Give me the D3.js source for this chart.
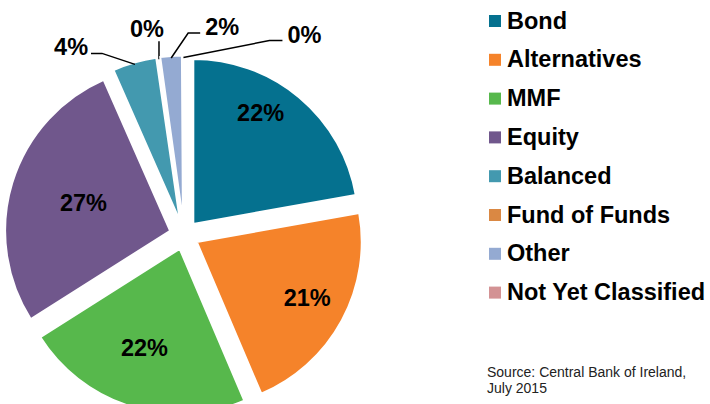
<!DOCTYPE html>
<html>
<head>
<meta charset="utf-8">
<script src="https://cdn.jsdelivr.net/npm/d3@7"></script>
<style>
	body { margin: 0; background: #fff; }
	text { font-family: "Liberation Sans", Arial, sans-serif; }
</style>
</head>
<body>
<script>
const categories = ['Bond', 'Alternatives', 'MMF', 'Equity', 'Balanced', 'Fund of Funds', 'Other', 'Not Yet Classified'];
const shares = [22.2, 21.4, 22.4, 27.4, 4.3, 0.1, 2.1, 0.1];
const colors = ['#05718f', '#f5832a', '#57b84c', '#70578c', '#4399af', '#da8843', '#94aad2', '#d39294'];
const source = ['Source: Central Bank of Ireland,', 'July 2015'];

const width = 710,
	height = 404,
	cx = 184,
	cy = 235,
	radius = 165,
	explode = 14.5,
	fontSize = '23.5px';

// nudges for the big in-slice labels (Excel best fit)
const insideNudge = {
	'Bond': [-9, -20],
	'Alternatives': [6, 0],
	'MMF': [0, -14],
	'Equity': [27, 7]
};
// leader lines for small slices: elbow offset from the arc point, then horizontal run
const callouts = {
	'Balanced': { elbow: [-33, -11], run: -11 },
	'Fund of Funds': { elbow: [0, -18], run: 0 },
	'Other': { elbow: [17, -25], run: 12 },
	'Not Yet Classified': { elbow: [86, -17], run: 13 }
};

let data = categories.map((c, i) => ({ name: c, value: shares[i], color: colors[i] }));

let svg = d3.select('body').append('svg')
	.attr('width', width)
	.attr('height', height);

let pie = d3.pie().sort(null).value(d => d.value);
let arc = d3.arc().innerRadius(0).outerRadius(radius);
let arcs = pie(data);

function mid(d) { return (d.startAngle + d.endAngle) / 2 }
function polar(a, r) { return [Math.sin(a) * r, -Math.cos(a) * r] }

let slice = svg.append('g')
	.attr('transform', 'translate(' + cx + ',' + cy + ')')
	.selectAll('g.slice')
	.data(arcs)
	.enter().append('g')
	.attr('class', 'slice')
	.attr('transform', d => {
		let p = polar(mid(d), explode);
		return 'translate(' + p[0] + ',' + p[1] + ')';
	});

slice.append('path')
	.attr('d', arc)
	.style('fill', d => d.data.color)
	.style('stroke', '#fff')
	.style('stroke-width', 2);

// in-slice labels
slice.filter(d => d.data.value >= 10).append('text')
	.attr('x', d => polar(mid(d), radius * 0.72)[0] + insideNudge[d.data.name][0])
	.attr('y', d => polar(mid(d), radius * 0.72)[1] + insideNudge[d.data.name][1] + 8)
	.attr('text-anchor', 'middle')
	.attr('font-size', fontSize)
	.attr('font-weight', 'bold')
	.text(d => Math.round(d.data.value) + '%');

// callouts for small slices
let small = slice.filter(d => d.data.value < 10);
small.each(function (d) {
	let g = d3.select(this),
		c = callouts[d.data.name],
		p0 = polar(mid(d), radius - 2),
		p1 = [p0[0] + c.elbow[0], p0[1] + c.elbow[1]],
		p2 = [p1[0] + c.run, p1[1]];
	g.append('path')
		.attr('d', d3.line()([p0, p1, p2]))
		.style('fill', 'none')
		.style('stroke', '#000')
		.style('stroke-width', 1.5);
	let t = g.append('text')
		.attr('font-size', fontSize)
		.attr('font-weight', 'bold')
		.text(Math.round(d.data.value) + '%');
	if (c.run < 0) {
		t.attr('x', p2[0] - 3).attr('y', p2[1] + 2).attr('text-anchor', 'end');
	} else if (c.run > 0) {
		t.attr('x', p2[0] + 5).attr('y', p2[1] + 2).attr('text-anchor', 'start');
	} else {
		t.attr('x', p2[0] - 12).attr('y', p2[1] - 4).attr('text-anchor', 'middle');
	}
});

// legend
let legend = svg.append('g')
	.selectAll('g.legend')
	.data(data)
	.enter().append('g')
	.attr('class', 'legend')
	.attr('transform', (d, i) => 'translate(489,' + (21 + i * 38.8) + ')');

legend.append('rect')
	.attr('x', 0)
	.attr('y', -6)
	.attr('width', 12)
	.attr('height', 12)
	.style('fill', d => d.color);

legend.append('text')
	.attr('x', 18)
	.attr('y', 7.5)
	.attr('font-size', fontSize)
	.attr('font-weight', 'bold')
	.text(d => d.name);

svg.append('text')
	.attr('x', 487)
	.attr('y', 377)
	.attr('font-size', '14px')
	.attr('fill', '#222')
	.selectAll('tspan')
	.data(source)
	.enter().append('tspan')
	.attr('x', 487)
	.attr('dy', (d, i) => i ? 15.5 : 0)
	.text(d => d);
</script>
</body>
</html>
